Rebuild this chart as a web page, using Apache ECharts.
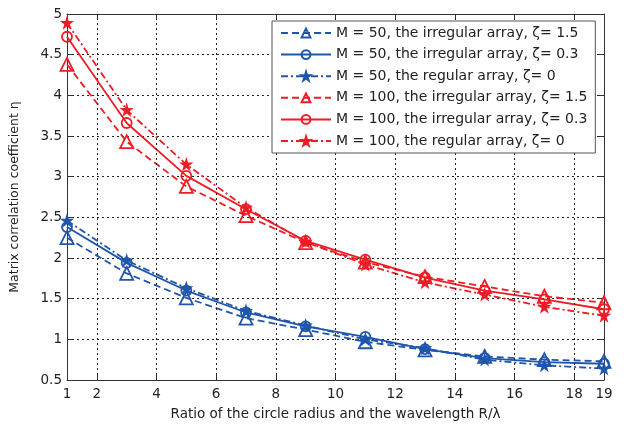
<!DOCTYPE html>
<html>
<head>
<meta charset="utf-8">
<script src="https://cdn.jsdelivr.net/npm/echarts@6/dist/echarts.min.js"></script>
<style>html,body{margin:0;padding:0;background:#fff;}#c{width:624px;height:426px;}</style>
</head>
<body>
<div id="c"></div>
<script>
const xValues = [1, 3, 5, 7, 9, 11, 13, 15, 17, 19];
const xTicks = [1, 2, 4, 6, 8, 10, 12, 14, 16, 18, 19];
const xGridLines = [2, 4, 6, 8, 10, 12, 14, 16, 18];
const seriesNames = [
  'M = 50, the irregular array, ζ= 1.5',
  'M = 50, the irregular array, ζ= 0.3',
  'M = 50, the regular array, ζ= 0',
  'M = 100, the irregular array, ζ= 1.5',
  'M = 100, the irregular array, ζ= 0.3',
  'M = 100, the regular array, ζ= 0'
];
const m50z15 = [2.25, 1.81, 1.51, 1.26, 1.12, 0.97, 0.87, 0.79, 0.75, 0.73];
const m50z03 = [2.38, 1.94, 1.60, 1.33, 1.16, 1.03, 0.88, 0.77, 0.72, 0.70];
const m50z0  = [2.46, 1.97, 1.63, 1.35, 1.17, 1.00, 0.89, 0.75, 0.68, 0.64];
const m100z15 = [4.38, 3.43, 2.88, 2.52, 2.19, 1.95, 1.77, 1.65, 1.53, 1.45];
const m100z03 = [4.72, 3.66, 3.01, 2.60, 2.21, 1.98, 1.76, 1.60, 1.49, 1.37];
const m100z0  = [4.89, 3.82, 3.15, 2.62, 2.20, 1.92, 1.70, 1.55, 1.40, 1.29];

const BLUE = '#1f56ab';
const RED = '#ee1c25';
const STAR = 'path://M50,0 L61,35 L98,35 L68,57 L79,91 L50,70 L21,91 L32,57 L2,35 L39,35 Z';

function pts(ys) { return xValues.map((x, i) => [x, ys[i]]); }
function mk(name, ys, color, dash, symbol, size, filled) {
  return {
    name: name, type: 'line', data: pts(ys),
    symbol: symbol, symbolSize: size,
    showAllSymbol: true,
    lineStyle: { color: color, width: 1.8, type: dash },
    itemStyle: { color: filled ? color : 'rgba(255,255,255,0)', borderColor: color, borderWidth: 1.8, opacity: 1 },
    emphasis: { disabled: true },
    z: 3
  };
}
const series = [
  mk(seriesNames[0], m50z15, BLUE, [7, 4], 'triangle', 13, false),
  mk(seriesNames[1], m50z03, BLUE, 'solid', 'circle', 10, false),
  mk(seriesNames[2], m50z0, BLUE, [7, 3, 2, 3], STAR, 9, true),
  mk(seriesNames[3], m100z15, RED, [7, 4], 'triangle', 13, false),
  mk(seriesNames[4], m100z03, RED, 'solid', 'circle', 10, false),
  mk(seriesNames[5], m100z0, RED, [7, 3, 2, 3], STAR, 9, true)
];
// vertical dotted grid lines at the even x values
series[0].markLine = {
  silent: true, symbol: ['none', 'none'], animation: false,
  label: { show: false },
  lineStyle: { color: '#222', type: [2, 3], width: 1 },
  emphasis: { disabled: true },
  data: xGridLines.map(v => ({ xAxis: v }))
};

const chart = echarts.init(document.getElementById('c'), null, { renderer: 'canvas' });
const font = 'DejaVu Sans, Liberation Sans, sans-serif';
chart.setOption({
  animation: false,
  backgroundColor: '#ffffff',
  grid: { left: 66, right: 20, top: 14, bottom: 41, show: false },
  legend: {
    z: 20,
    orient: 'vertical', left: 272, top: 21,
    backgroundColor: '#ffffff', borderColor: '#555', borderWidth: 1,
    padding: [5, 8, 5, 8],
    itemWidth: 50, itemHeight: 11, itemGap: 7.6,
    textStyle: { fontFamily: font, fontSize: 14, color: '#222' },
    data: seriesNames
  },
  xAxis: [{
    type: 'value', min: 1, max: 19, position: 'bottom',
    name: 'Ratio of the circle radius and the wavelength R/λ',
    nameLocation: 'middle', nameGap: 27,
    nameTextStyle: { fontFamily: font, fontSize: 13.5, color: '#222' },
    axisLine: { show: true, onZero: false, lineStyle: { color: '#333', width: 1 } },
    axisTick: { show: true, inside: true, length: 5, customValues: xTicks, lineStyle: { color: '#333' } },
    axisLabel: { customValues: xTicks, fontFamily: font, fontSize: 13.5, color: '#222', margin: 7 },
    splitLine: { show: false }
  }, {
    type: 'value', min: 1, max: 19, position: 'top',
    axisLine: { show: true, onZero: false, lineStyle: { color: '#333', width: 1 } },
    axisTick: { show: true, inside: true, length: 5, customValues: xTicks, lineStyle: { color: '#333' } },
    axisLabel: { show: false },
    splitLine: { show: false }
  }],
  yAxis: [{
    type: 'value', min: 0.5, max: 5, interval: 0.5, position: 'left',
    name: 'Matrix correlation coefficient η',
    nameLocation: 'middle', nameGap: 46,
    nameTextStyle: { fontFamily: font, fontSize: 12.5, color: '#222' },
    axisLine: { show: true, onZero: false, lineStyle: { color: '#333', width: 1 } },
    axisTick: { show: true, inside: true, length: 5, lineStyle: { color: '#333' } },
    axisLabel: { fontFamily: font, fontSize: 13.5, color: '#222', margin: 5 },
    splitLine: { show: true, lineStyle: { color: '#222', type: [2, 3], width: 1 } }
  }, {
    type: 'value', min: 0.5, max: 5, interval: 0.5, position: 'right',
    axisLine: { show: true, onZero: false, lineStyle: { color: '#333', width: 1 } },
    axisTick: { show: true, inside: true, length: 5, lineStyle: { color: '#333' } },
    axisLabel: { show: false },
    splitLine: { show: false }
  }],
  series: series
});
</script>
</body>
</html>
